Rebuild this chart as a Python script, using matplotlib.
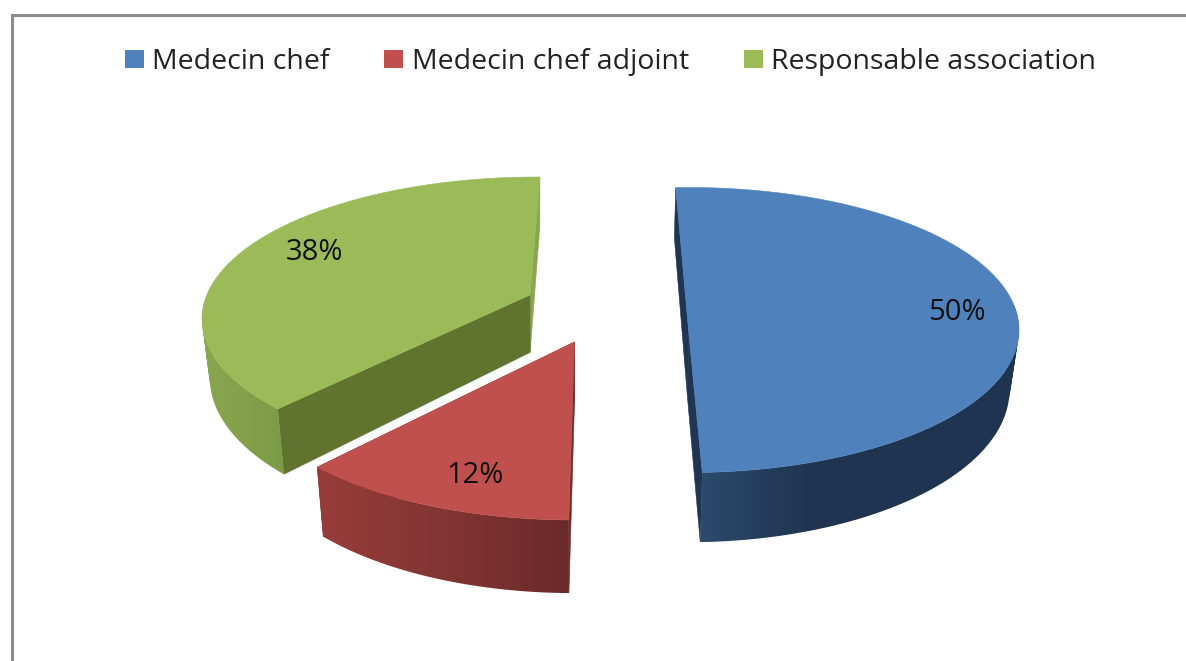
"""
Exploded 3D style pie chart, drawn by hand on a pixel sized axes
"""

import matplotlib
matplotlib.use('Agg')
import matplotlib.pyplot as plt
from matplotlib.colors import to_rgb
from matplotlib.patches import Patch, Polygon
from matplotlib.path import Path
import numpy as np

labels = ['Medecin chef', 'Medecin chef adjoint', 'Responsable association']
values = [50, 12, 38]

top_colours = ['#4f81bd', '#c0504d', '#9bbb59']
# wall gradient, left to right across the visible wall of each slice
wall_stops = [([0, 0.35, 1], ['#2c4a6c', '#1f3450', '#1f3450']),
              ([0, 0.5, 1], ['#983c3a', '#833533', '#692a29']),
              ([0, 1], ['#88a74f', '#7d9b46'])]
# inner faces, at the first and at the last edge of each slice
first_face = ['#1f3552', '#6f2d2b', '#60742f']
last_face = ['#1f3552', '#6a2b2a', '#88a650']

# ellipse of each slice (they are exploded, so each has its own centre)
centres = [(689, 330), (574, 378), (537, 319)]
radii = [(330, 142.5), (330, 142), (335, 142)]
apexes = [(689, 335), (574.5, 342), (530, 295)]
twist = [0, -3.2, -2.8]
drop_x = [616, 574, 537]
label_pos = [(0.824, 7.5), (0.736, 0.1), (0.824, -21.6)]

START = 92.3
WARP = 7.0


def warp(theta):
    """Perspective squeeze of the true pie angle"""
    return theta + WARP * np.sin(np.radians(2 * (theta - START)))


def arc(centre, radius, phi):
    rad = np.radians(phi)
    return np.column_stack([centre[0] + radius[0] * np.cos(rad),
                            centre[1] - radius[1] * np.sin(rad)])


def drop(points, x_centre):
    """Move points from the top face to the bottom face"""
    points = np.atleast_2d(points)
    x = points[:, 0] + (x_centre - points[:, 0]) * 0.0235
    y = points[:, 1] + 50 + 0.07 * (points[:, 1] - 190)
    return np.column_stack([x, y])


def wall_path(top, low):
    """Union of small quads, all turned the same way, so nothing cancels out"""
    verts, codes = [], []
    for j in range(len(top) - 1):
        quad = np.array([top[j], top[j + 1], low[j + 1], low[j]])
        x, y = quad[:, 0], quad[:, 1]
        if np.dot(x, np.roll(y, -1)) - np.dot(y, np.roll(x, -1)) < 0:
            quad = quad[::-1]
        verts.extend(quad)
        verts.append(quad[0])
        codes.extend([Path.MOVETO, Path.LINETO, Path.LINETO, Path.LINETO, Path.CLOSEPOLY])
    return Path(np.array(verts), codes)


def draw_wall(ax, i, top, low):
    """Outer wall, a horizontal gradient clipped to the wall's outline"""
    outline = np.vstack([top, low])
    x0, x1 = outline[:, 0].min(), outline[:, 0].max()
    y0, y1 = outline[:, 1].min(), outline[:, 1].max()
    fracs, cols = wall_stops[i]
    rgb = np.array([to_rgb(c) for c in cols])
    t = np.linspace(0, 1, 256)
    grad = np.stack([np.interp(t, fracs, rgb[:, k]) for k in range(3)], axis=1)[np.newaxis, :, :]
    # images go under patches unless told otherwise
    im = ax.imshow(grad, extent=(x0, x1, y1, y0), aspect='auto', interpolation='bilinear', zorder=2)
    im.set_clip_path(wall_path(top, low), transform=ax.transData)


def draw_slice(ax, i, start, end):
    """Draw the faces of a slice, going clockwise from start to end"""
    centre, radius = centres[i], radii[i]
    phi = np.linspace(warp(start) + twist[i], warp(end) + twist[i], 200)
    top = arc(centre, radius, phi)
    low = drop(top, drop_x[i])
    apex = np.array(apexes[i], dtype=float)
    apex_low = drop(apex, drop_x[i])[0]

    # inner faces
    ax.add_patch(Polygon([top[-1], apex, apex_low, low[-1]], closed=True,
                         fc=last_face[i], ec=last_face[i], lw=0.4, zorder=1))
    ax.add_patch(Polygon([top[0], apex, apex_low, low[0]], closed=True,
                         fc=first_face[i], ec=first_face[i], lw=0.4, zorder=1))

    # only the front of the outer wall can be seen
    front = (phi % 360 > 170) | (phi % 360 < 10)
    draw_wall(ax, i, top[front], low[front])

    # top face
    ax.add_patch(Polygon(np.vstack([top, apex]), closed=True,
                         fc=top_colours[i], ec=top_colours[i], lw=0.4, zorder=3))


plt.rcParams['font.family'] = ['Open Sans', 'DejaVu Sans']
fig = plt.figure(figsize=(11.86, 6.61), dpi=100)
ax = fig.add_axes([0, 0, 1, 1])
ax.axis('off')

# chart frame, only the left and top sides are in the picture
ax.plot([11.5, 11.5, 1186], [661, 14.5, 14.5], color='#8c8c8c', lw=2.2, solid_joinstyle='miter')

sweeps = np.array(values) / sum(values) * 360
starts = START - np.concatenate([[0], np.cumsum(sweeps)[:-1]])
for i in [2, 1, 0]:
    draw_slice(ax, i, starts[i], starts[i] - sweeps[i])

ax.set_xlim(0, 1186)
ax.set_ylim(661, 0)

for i in range(len(values)):
    mid = warp(starts[i] - sweeps[i] / 2) + label_pos[i][1]
    xy = arc(centres[i], (radii[i][0] * label_pos[i][0], radii[i][1] * label_pos[i][0]), mid)[0]
    ax.text(xy[0], xy[1] + 2, f'{values[i]}%', ha='center', va='center', fontsize=21,
            color='#111111', zorder=5)

handles = [Patch(fc=c, ec='none') for c in top_colours]
fig.legend(handles, labels, ncol=3, frameon=False, fontsize=20.5, loc='center',
           bbox_to_anchor=(610.5 / 1186, 1 - 62 / 661), handlelength=0.67, handleheight=0.57,
           handletextpad=0.3, columnspacing=1.92, labelcolor='#222222')

fig.savefig('out.png', dpi=100)
